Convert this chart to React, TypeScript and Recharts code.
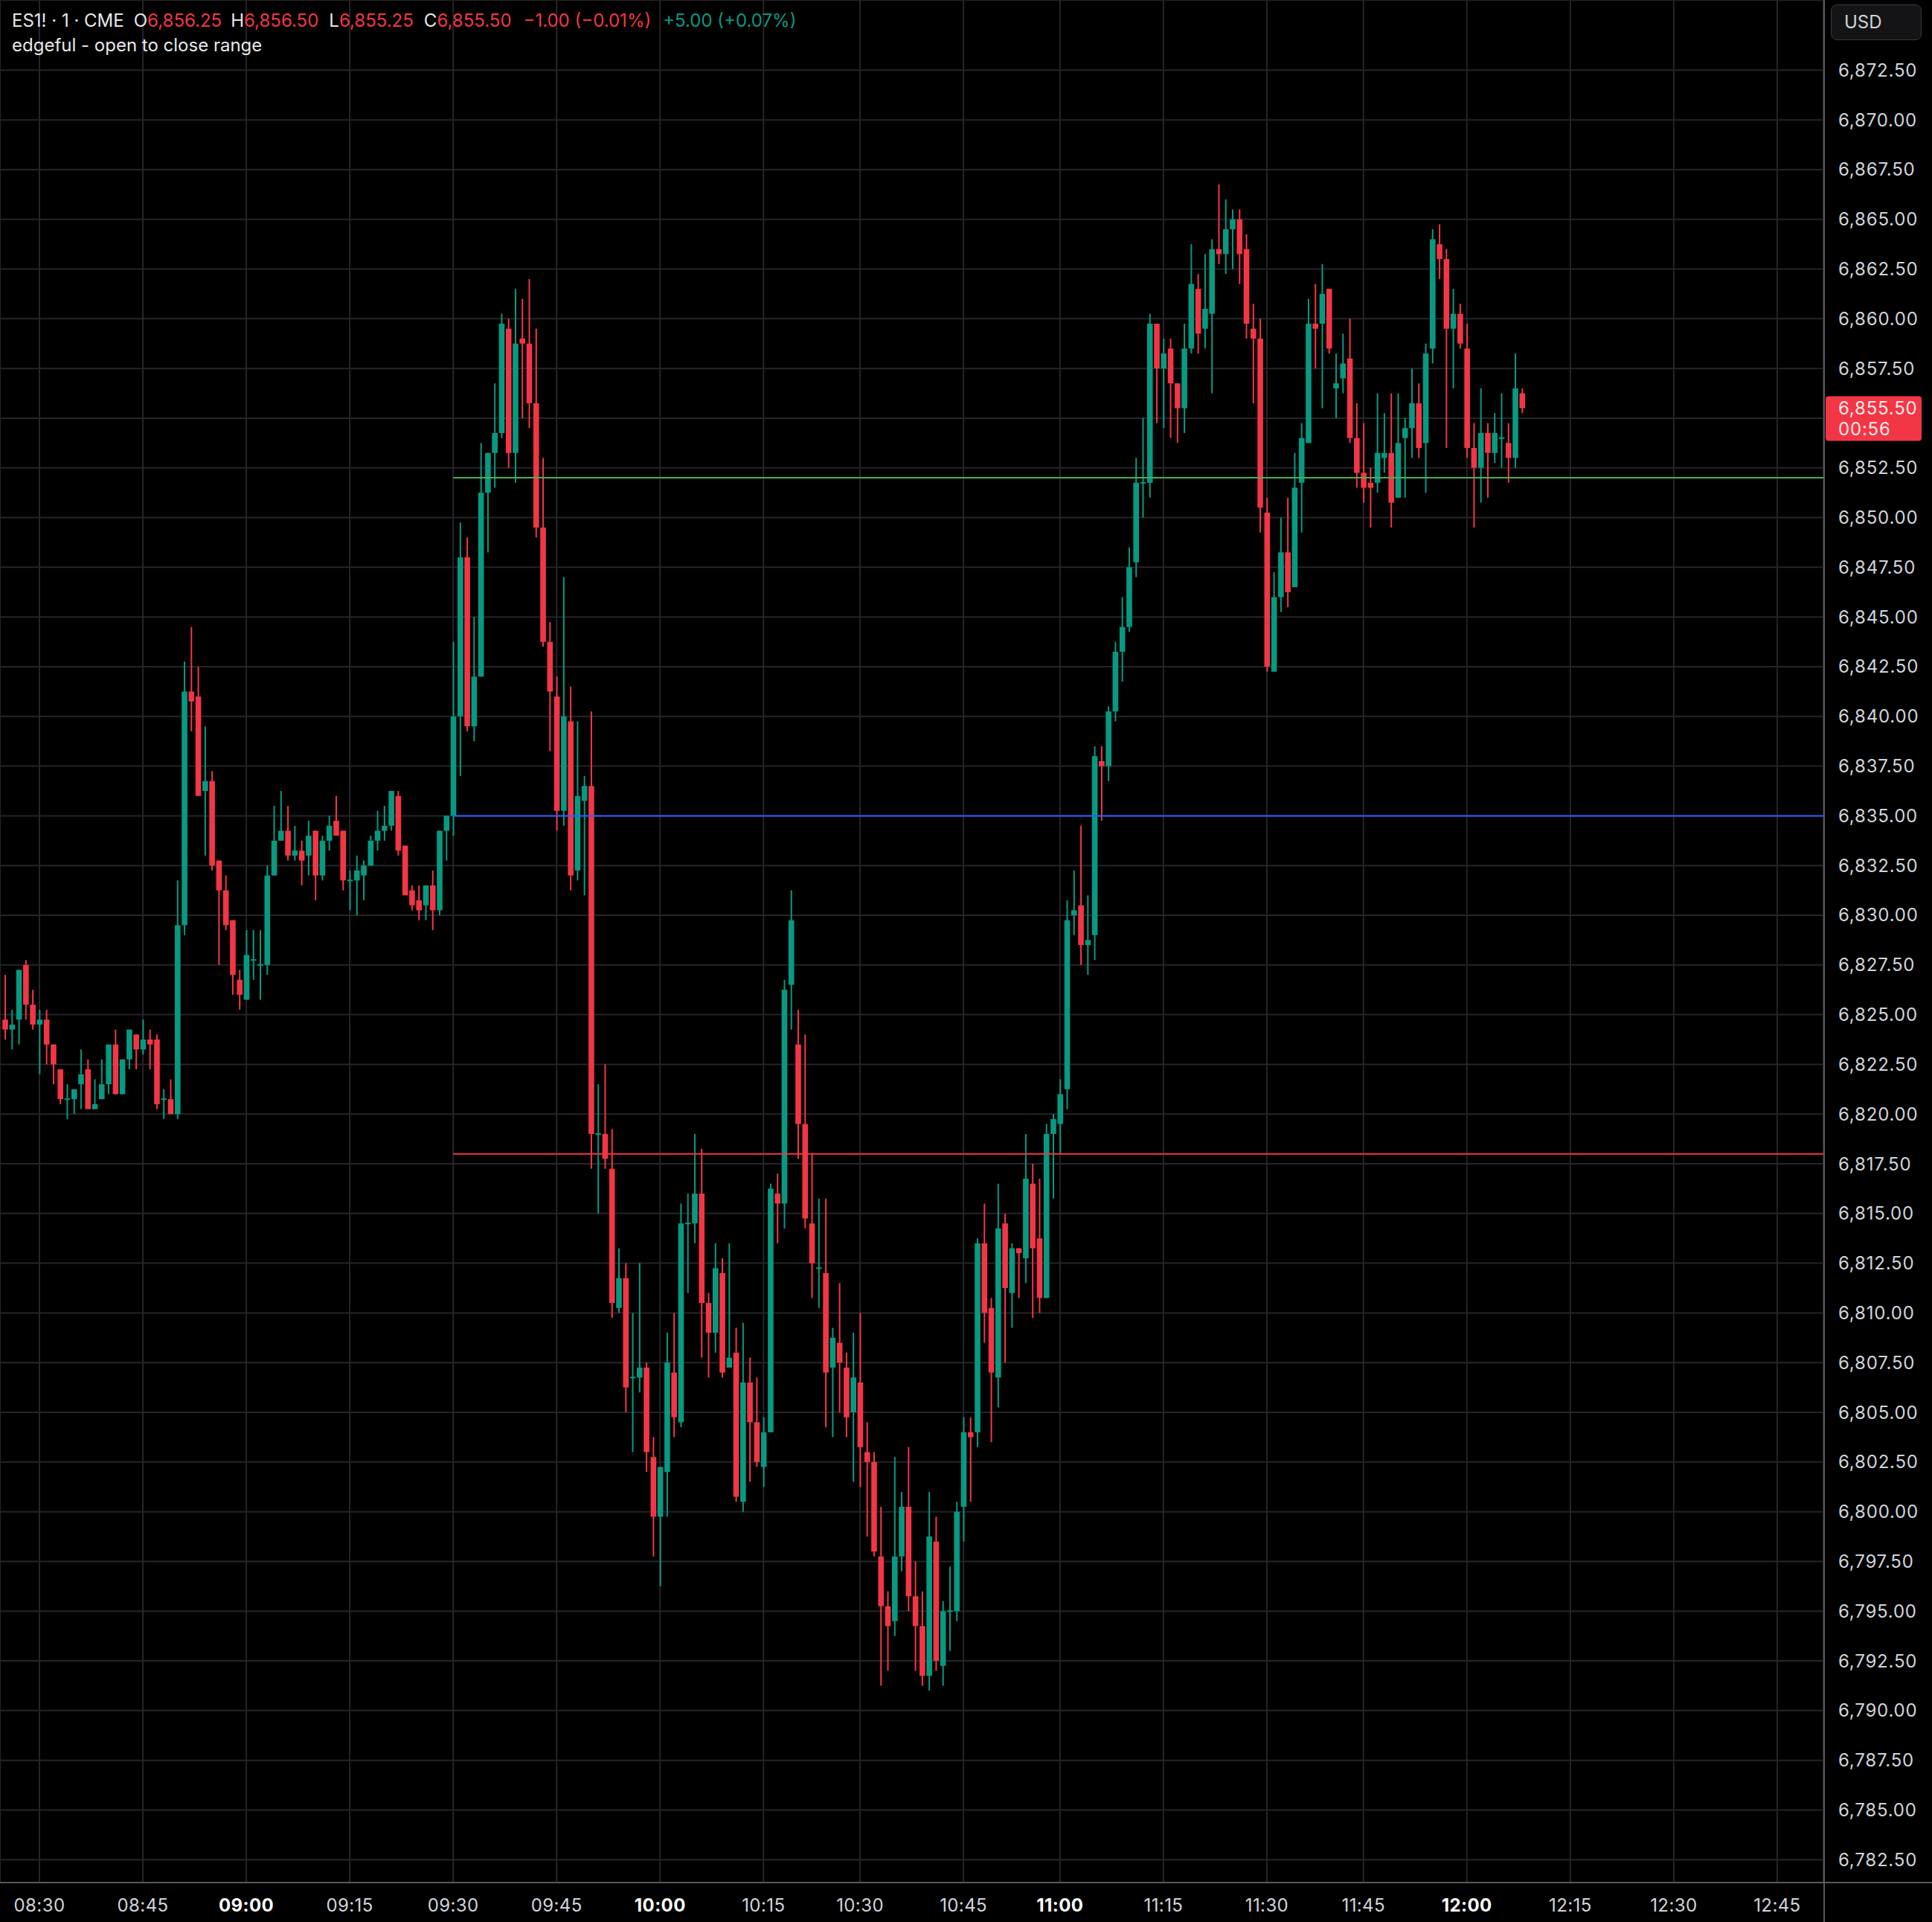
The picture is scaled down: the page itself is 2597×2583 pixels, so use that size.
import { Bar, CartesianGrid, ComposedChart, ReferenceLine, XAxis, YAxis } from "recharts";

const GREEN = "#089981";
const RED = "#f23645";
const GRID = "#25252a";
const AXIS = "#58585e";
const TEXT = "#d1d4dc";
const FONT = "Inter, Roboto, sans-serif";

// 1-minute ES1! bars, first bar 08:25
const opens = [
  6824.75, 6824.25, 6824.75, 6827.5, 6825.5, 6824.5, 6824.75, 6823.5, 6822.25, 6820.75,
  6820.75, 6821.5, 6822.25, 6820.25, 6820.75, 6821.5, 6823.5, 6821.0, 6822.75, 6824.0,
  6823.25, 6823.75, 6823.75, 6820.75, 6820.75, 6820.0, 6829.5, 6841.25, 6841.0, 6836.25,
  6836.75, 6832.75, 6831.25, 6829.75, 6826.75, 6825.75, 6827.75, 6827.5, 6827.5, 6832.0,
  6833.75, 6834.25, 6833.0, 6833.25, 6833.0, 6834.25, 6832.0, 6833.75, 6834.75, 6834.25,
  6831.75, 6831.75, 6832.0, 6832.5, 6833.75, 6834.25, 6834.5, 6836.0, 6833.5, 6831.25,
  6830.75, 6830.5, 6831.5, 6830.25, 6834.25, 6835.0, 6840.0, 6848.0, 6839.5, 6842.0,
  6851.25, 6853.25, 6854.25, 6859.5, 6853.25, 6859.0, 6858.75, 6855.75, 6849.5, 6843.75,
  6841.0, 6835.25, 6839.75, 6832.25, 6835.75, 6836.5, 6819.0, 6819.0, 6817.25, 6810.25,
  6811.75, 6806.75, 6806.75, 6807.25, 6802.75, 6799.75, 6802.0, 6807.0, 6804.5, 6814.5,
  6814.5, 6816.0, 6810.5, 6809.0, 6812.0, 6807.25, 6808.0, 6800.5, 6806.5, 6804.5,
  6802.25, 6804.0, 6816.0, 6815.5, 6826.5, 6823.5, 6819.5, 6814.5, 6812.25, 6812.0,
  6807.25, 6808.5, 6807.25, 6805.0, 6806.5, 6803.0, 6802.5, 6797.75, 6795.25, 6794.5,
  6797.75, 6800.25, 6795.75, 6794.25, 6791.75, 6798.5, 6792.25, 6795.0, 6795.0, 6800.25,
  6804.0, 6804.0, 6813.5, 6810.25, 6806.75, 6814.5, 6811.0, 6813.25, 6812.75, 6816.5,
  6813.75, 6810.75, 6819.0, 6819.5, 6821.25, 6830.0, 6830.5, 6828.5, 6829.0, 6837.75,
  6837.5, 6840.25, 6843.25, 6844.5, 6847.75, 6851.75, 6851.75, 6859.75, 6857.5, 6858.5,
  6856.75, 6855.5, 6858.5, 6861.5, 6859.5, 6860.25, 6863.5, 6863.25, 6864.5, 6865.0,
  6863.5, 6859.5, 6859.0, 6850.25, 6842.25, 6846.0, 6848.25, 6846.5, 6851.75, 6853.75,
  6859.75, 6859.75, 6861.5, 6856.5, 6857.0, 6858.0, 6854.0, 6852.25, 6851.75, 6851.75,
  6853.0, 6853.25, 6851.0, 6854.0, 6854.5, 6855.75, 6853.75, 6858.5, 6863.75, 6863.0,
  6859.5, 6860.25, 6858.5, 6853.5, 6852.5, 6854.25, 6853.25, 6854.0, 6853.75, 6853.0,
  6856.25,
];

const highs = [
  6827.0, 6825.25, 6827.25, 6827.75, 6826.25, 6825.25, 6825.25, 6823.5, 6822.25, 6821.5,
  6821.25, 6823.25, 6822.75, 6821.75, 6822.75, 6823.5, 6824.25, 6822.75, 6824.25, 6824.0,
  6824.75, 6824.25, 6824.0, 6821.25, 6821.75, 6831.75, 6842.75, 6844.5, 6842.5, 6839.5,
  6837.25, 6832.75, 6832.0, 6829.75, 6827.25, 6829.25, 6829.25, 6829.25, 6832.5, 6835.5,
  6836.25, 6835.5, 6834.5, 6833.75, 6834.75, 6834.25, 6834.0, 6835.0, 6836.0, 6834.25,
  6832.25, 6833.0, 6832.75, 6834.0, 6835.25, 6835.5, 6836.25, 6836.25, 6833.5, 6831.5,
  6831.5, 6831.5, 6832.25, 6834.25, 6835.0, 6843.75, 6849.75, 6849.0, 6845.0, 6853.75,
  6853.25, 6856.75, 6860.25, 6860.0, 6861.5, 6861.0, 6862.0, 6859.5, 6853.0, 6844.75,
  6842.0, 6847.0, 6841.5, 6839.75, 6837.0, 6840.25, 6821.5, 6822.5, 6819.25, 6813.25,
  6812.5, 6810.0, 6812.5, 6807.5, 6803.75, 6802.25, 6809.0, 6810.0, 6815.5, 6816.0,
  6819.0, 6818.25, 6811.0, 6813.5, 6812.75, 6813.5, 6809.25, 6809.5, 6807.75, 6806.75,
  6804.75, 6816.5, 6817.0, 6826.75, 6831.25, 6825.25, 6824.0, 6818.0, 6815.75, 6815.75,
  6809.25, 6811.5, 6808.0, 6809.0, 6810.0, 6804.5, 6803.0, 6800.25, 6796.0, 6802.75,
  6801.0, 6803.25, 6797.5, 6796.0, 6801.0, 6799.75, 6795.5, 6797.25, 6800.5, 6804.75,
  6804.75, 6813.75, 6815.5, 6810.75, 6816.5, 6815.0, 6813.5, 6813.25, 6819.0, 6817.5,
  6816.75, 6819.5, 6820.0, 6821.75, 6830.75, 6832.25, 6834.5, 6831.0, 6838.5, 6838.5,
  6840.5, 6843.75, 6846.0, 6848.5, 6853.0, 6855.0, 6860.25, 6859.75, 6859.0, 6859.0,
  6856.75, 6859.75, 6863.75, 6862.25, 6863.25, 6864.0, 6866.75, 6866.0, 6865.5, 6865.5,
  6864.25, 6860.75, 6860.0, 6851.0, 6847.25, 6850.0, 6851.0, 6853.25, 6854.75, 6861.0,
  6861.75, 6862.75, 6861.5, 6858.25, 6859.25, 6860.0, 6855.75, 6854.75, 6852.5, 6856.25,
  6855.25, 6856.25, 6856.25, 6855.0, 6857.5, 6856.75, 6858.75, 6864.5, 6864.75, 6863.5,
  6861.5, 6860.75, 6859.75, 6854.75, 6856.5, 6854.75, 6855.25, 6856.25, 6854.75, 6858.25,
  6856.5,
];

const lows = [
  6823.75, 6823.25, 6823.5, 6824.75, 6824.25, 6822.0, 6822.5, 6821.5, 6820.5, 6819.75,
  6820.0, 6820.25, 6820.25, 6820.25, 6820.75, 6821.0, 6821.0, 6821.0, 6822.25, 6822.25,
  6823.0, 6822.25, 6820.25, 6819.75, 6820.0, 6819.75, 6829.0, 6839.25, 6836.0, 6833.0,
  6832.25, 6827.5, 6829.25, 6826.0, 6825.25, 6825.75, 6826.75, 6825.75, 6827.0, 6832.0,
  6833.75, 6832.75, 6832.75, 6831.5, 6832.0, 6830.75, 6831.75, 6833.25, 6834.0, 6831.25,
  6830.25, 6830.0, 6830.75, 6832.5, 6833.25, 6833.75, 6834.25, 6833.0, 6831.0, 6830.25,
  6829.75, 6829.75, 6829.25, 6830.0, 6832.75, 6834.0, 6837.0, 6839.25, 6838.75, 6842.0,
  6848.25, 6851.5, 6854.0, 6852.5, 6851.75, 6855.0, 6854.5, 6849.0, 6843.5, 6838.25,
  6834.25, 6834.5, 6831.25, 6831.75, 6831.0, 6817.25, 6815.0, 6817.25, 6809.75, 6810.0,
  6805.0, 6803.0, 6806.0, 6802.0, 6797.75, 6796.25, 6799.75, 6803.75, 6804.25, 6811.0,
  6813.5, 6807.75, 6806.75, 6808.0, 6806.75, 6807.25, 6800.5, 6800.0, 6801.5, 6802.25,
  6801.25, 6804.0, 6813.5, 6814.25, 6824.25, 6817.75, 6814.25, 6810.75, 6810.25, 6804.25,
  6803.75, 6805.0, 6803.75, 6801.5, 6801.25, 6798.75, 6797.75, 6791.25, 6792.0, 6793.75,
  6797.0, 6795.0, 6792.0, 6791.25, 6791.0, 6792.0, 6791.25, 6793.0, 6794.5, 6798.5,
  6800.5, 6803.25, 6808.5, 6803.5, 6805.25, 6807.5, 6809.25, 6810.75, 6811.5, 6809.75,
  6810.0, 6810.75, 6815.75, 6818.0, 6820.25, 6829.0, 6827.5, 6827.0, 6827.75, 6834.75,
  6836.75, 6839.75, 6841.75, 6844.25, 6847.0, 6850.0, 6851.0, 6854.75, 6854.5, 6854.0,
  6853.75, 6854.25, 6858.25, 6858.25, 6858.5, 6856.25, 6862.75, 6862.25, 6862.5, 6861.75,
  6859.0, 6855.75, 6849.25, 6842.25, 6842.25, 6845.25, 6845.5, 6846.5, 6849.25, 6853.75,
  6857.5, 6855.5, 6858.25, 6855.0, 6856.25, 6853.75, 6851.5, 6850.75, 6849.5, 6851.25,
  6852.25, 6849.5, 6851.0, 6851.0, 6853.0, 6853.0, 6851.25, 6857.75, 6862.0, 6853.5,
  6856.5, 6858.5, 6853.0, 6849.5, 6850.75, 6851.0, 6852.75, 6852.5, 6851.75, 6852.5,
  6855.25,
];

const closes = [
  6824.25, 6824.5, 6827.25, 6825.5, 6824.5, 6824.75, 6823.5, 6822.5, 6820.75, 6820.75,
  6821.25, 6822.0, 6820.25, 6820.5, 6821.5, 6823.5, 6821.0, 6822.75, 6824.25, 6823.25,
  6823.75, 6823.5, 6820.5, 6820.75, 6820.0, 6829.5, 6841.25, 6840.75, 6836.0, 6836.75,
  6832.5, 6831.25, 6829.5, 6827.0, 6826.0, 6828.0, 6827.75, 6827.5, 6832.0, 6833.75,
  6834.25, 6833.0, 6833.25, 6832.75, 6834.0, 6832.0, 6833.75, 6834.5, 6834.0, 6831.75,
  6831.75, 6832.25, 6832.5, 6833.75, 6834.25, 6834.5, 6836.25, 6833.25, 6831.0, 6830.5,
  6830.25, 6831.5, 6830.25, 6834.25, 6835.0, 6840.0, 6848.0, 6839.5, 6842.0, 6851.25,
  6853.25, 6854.25, 6859.75, 6853.25, 6858.75, 6858.75, 6855.75, 6849.5, 6843.75, 6841.25,
  6835.25, 6840.0, 6832.0, 6836.0, 6836.5, 6819.0, 6819.0, 6817.75, 6810.5, 6811.75,
  6806.25, 6806.75, 6807.25, 6803.0, 6799.75, 6802.25, 6807.5, 6804.75, 6814.5, 6814.5,
  6816.0, 6810.5, 6809.0, 6812.25, 6807.0, 6807.75, 6800.75, 6806.5, 6804.5, 6802.5,
  6804.0, 6816.25, 6815.5, 6826.25, 6829.75, 6819.5, 6814.75, 6812.5, 6812.25, 6807.0,
  6808.75, 6807.5, 6804.75, 6806.75, 6803.25, 6802.5, 6798.0, 6795.25, 6794.25, 6797.75,
  6800.25, 6795.75, 6794.25, 6791.75, 6798.75, 6792.5, 6795.0, 6795.0, 6800.0, 6804.0,
  6803.75, 6813.5, 6810.0, 6807.0, 6814.25, 6811.25, 6813.25, 6813.0, 6816.75, 6813.25,
  6810.75, 6819.0, 6819.75, 6821.0, 6829.75, 6830.25, 6828.5, 6828.75, 6838.0, 6837.5,
  6840.25, 6843.25, 6844.5, 6847.5, 6851.75, 6851.75, 6859.75, 6857.5, 6858.25, 6856.75,
  6855.5, 6858.5, 6861.75, 6859.25, 6860.5, 6863.5, 6863.25, 6864.5, 6865.0, 6863.25,
  6859.75, 6859.0, 6850.5, 6842.5, 6846.0, 6848.25, 6846.25, 6851.5, 6854.0, 6859.75,
  6859.5, 6861.25, 6858.5, 6856.75, 6857.75, 6854.0, 6852.25, 6851.5, 6851.5, 6853.25,
  6853.25, 6850.75, 6853.75, 6854.5, 6855.75, 6853.5, 6858.25, 6864.0, 6863.0, 6859.5,
  6860.25, 6858.75, 6853.5, 6852.5, 6854.25, 6853.25, 6854.25, 6854.0, 6853.0, 6856.5,
  6855.5,
];

// time axis: bar index of each label
const timeTicks = [5, 20, 35, 50, 65, 80, 95, 110, 124, 139, 153, 168, 183, 197, 212, 227, 242, 257];
const timeLabels = [
  "08:30", "08:45", "09:00", "09:15", "09:30", "09:45", "10:00", "10:15", "10:30",
  "10:45", "11:00", "11:15", "11:30", "11:45", "12:00", "12:15", "12:30", "12:45",
];
const boldLabels = ["09:00", "10:00", "11:00", "12:00"];

const priceTicks = [
  6782.5, 6785, 6787.5, 6790, 6792.5, 6795, 6797.5, 6800, 6802.5, 6805, 6807.5, 6810,
  6812.5, 6815, 6817.5, 6820, 6822.5, 6825, 6827.5, 6830, 6832.5, 6835, 6837.5, 6840,
  6842.5, 6845, 6847.5, 6850, 6852.5, 6855, 6857.5, 6860, 6862.5, 6865, 6867.5, 6870,
  6872.5,
];

// open-to-close range levels, drawn from the 09:30 open bar
const rangeStartBar = 65;
const levelPrices = [6852, 6835, 6818];
const levelColors = ["#4caf50", "#2962ff", "#f23645"];

const lastPrice = 6855.5;
const countdown = "00:56";

const X_DOMAIN: [number, number] = [-0.72, 263.7];
const Y_DOMAIN: [number, number] = [6781.35, 6876.03];

const data = opens.map((o, i) => ({
  i,
  o,
  h: highs[i],
  l: lows[i],
  c: closes[i],
  range: [lows[i], highs[i]],
}));

const fmtPrice = (v: number) =>
  v.toLocaleString("en-US", { minimumFractionDigits: 2, maximumFractionDigits: 2 });

function Candle(props: any) {
  const { x, y, width, height, payload } = props;
  if (!payload || height == null) return null;
  const top = Math.min(y, y + height);
  const span = Math.abs(height);
  const { o, h, l, c } = payload;
  const toY = (v: number) => top + ((h - v) / (h - l || 1)) * span;
  const color = c >= o ? GREEN : RED;
  const mid = x + width / 2;
  let bodyTop = toY(Math.max(o, c));
  let bodyH = toY(Math.min(o, c)) - bodyTop;
  if (bodyH < 2) {
    bodyTop -= (2 - bodyH) / 2;
    bodyH = 2;
  }
  return (
    <g>
      <rect x={mid - 1} y={top} width={2} height={span} fill={color} />
      <rect x={mid - 3.8} y={bodyTop} width={7.6} height={bodyH} fill={color} />
    </g>
  );
}

function TimeTick(props: any) {
  const { x, payload } = props;
  const label = timeLabels[timeTicks.indexOf(payload.value)];
  const bold = boldLabels.includes(label);
  return (
    <text
      x={x}
      y={2560}
      textAnchor="middle"
      dominantBaseline="central"
      fill={bold ? "#ffffff" : TEXT}
      fontWeight={bold ? 700 : 400}
      fontSize={24}
      letterSpacing={0.4}
      fontFamily={FONT}
    >
      {label}
    </text>
  );
}

function PriceTick(props: any) {
  const { y, payload } = props;
  // the last-price tag covers the tick beneath it
  if (Math.abs(payload.value - lastPrice) < 1.25) return <g />;
  return (
    <text
      x={2471}
      y={y}
      dominantBaseline="central"
      fill={TEXT}
      fontSize={24}
      letterSpacing={0.8}
      fontFamily={FONT}
    >
      {fmtPrice(payload.value)}
    </text>
  );
}

function LastPriceLabel(props: any) {
  const vy = props.viewBox?.y ?? 0;
  return (
    <g>
      <rect x={2454} y={vy - 16} width={129} height={60} rx={4} fill={RED} />
      <text x={2471} y={vy} dominantBaseline="central" fill="#fde8ea" fontSize={24} letterSpacing={0.8} fontFamily={FONT}>
        {fmtPrice(lastPrice)}
      </text>
      <text x={2471} y={vy + 28} dominantBaseline="central" fill="#fde8ea" fontSize={24} letterSpacing={0.8} fontFamily={FONT}>
        {countdown}
      </text>
    </g>
  );
}

export default function App() {
  return (
    <div style={{ position: "relative", width: 2597, height: 2583, background: "#000", fontFamily: FONT }}>
      <style>{`body{margin:0;background:#000}`}</style>
      <ComposedChart
        width={2597}
        height={2583}
        data={data}
        margin={{ top: 0, right: 0, bottom: 0, left: 0 }}
      >
        <CartesianGrid stroke={GRID} strokeWidth={2} />
        <XAxis
          type="number"
          dataKey="i"
          domain={X_DOMAIN}
          ticks={timeTicks}
          interval={0}
          allowDataOverflow
          height={53}
          tickLine={false}
          axisLine={false}
          tick={TimeTick}
        />
        <YAxis
          orientation="right"
          type="number"
          domain={Y_DOMAIN}
          ticks={priceTicks}
          interval={0}
          allowDataOverflow
          width={146}
          tickLine={false}
          axisLine={false}
          tick={PriceTick}
        />
        {levelPrices.map((p, k) => (
          <ReferenceLine
            key={p}
            segment={[
              { x: rangeStartBar, y: p },
              { x: X_DOMAIN[1], y: p },
            ]}
            stroke={levelColors[k]}
            strokeWidth={2}
          />
        ))}
        <Bar dataKey="range" shape={<Candle />} barSize={8} isAnimationActive={false} />
        <ReferenceLine y={lastPrice} stroke="none" label={LastPriceLabel} />
      </ComposedChart>

      {/* pane separators */}
      <div style={{ position: "absolute", left: 0, top: 2529, width: 2597, height: 2, background: AXIS }} />
      <div style={{ position: "absolute", left: 2451, top: 0, width: 2, height: 2583, background: AXIS }} />

      <div
        style={{
          position: "absolute",
          left: 16,
          top: 14,
          fontSize: 24,
          color: "#e8e8ea",
          whiteSpace: "pre",
          lineHeight: "28px",
        }}
      >
        <span>ES1! · 1 · CME</span>
        <span style={{ marginLeft: 13 }}>O</span>
        <span style={{ color: RED }}>6,856.25</span>
        <span style={{ marginLeft: 12 }}>H</span>
        <span style={{ color: RED }}>6,856.50</span>
        <span style={{ marginLeft: 14 }}>L</span>
        <span style={{ color: RED }}>6,855.25</span>
        <span style={{ marginLeft: 14 }}>C</span>
        <span style={{ color: RED }}>6,855.50</span>
        <span style={{ color: RED, marginLeft: 16 }}>−1.00 (−0.01%)</span>
        <span style={{ color: GREEN, marginLeft: 16 }}>+5.00 (+0.07%)</span>
      </div>
      <div
        style={{
          position: "absolute",
          left: 16,
          top: 47,
          fontSize: 24,
          color: "#e8e8ea",
          lineHeight: "28px",
        }}
      >
        edgeful - open to close range
      </div>
      <div
        style={{
          position: "absolute",
          left: 2461,
          top: 6,
          width: 122,
          height: 48,
          boxSizing: "border-box",
          border: "1.5px solid #3a3a3e",
          borderRadius: 8,
          background: "#141416",
          color: TEXT,
          fontSize: 24,
          lineHeight: "45px",
          paddingLeft: 17,
        }}
      >
        USD
      </div>
    </div>
  );
}
